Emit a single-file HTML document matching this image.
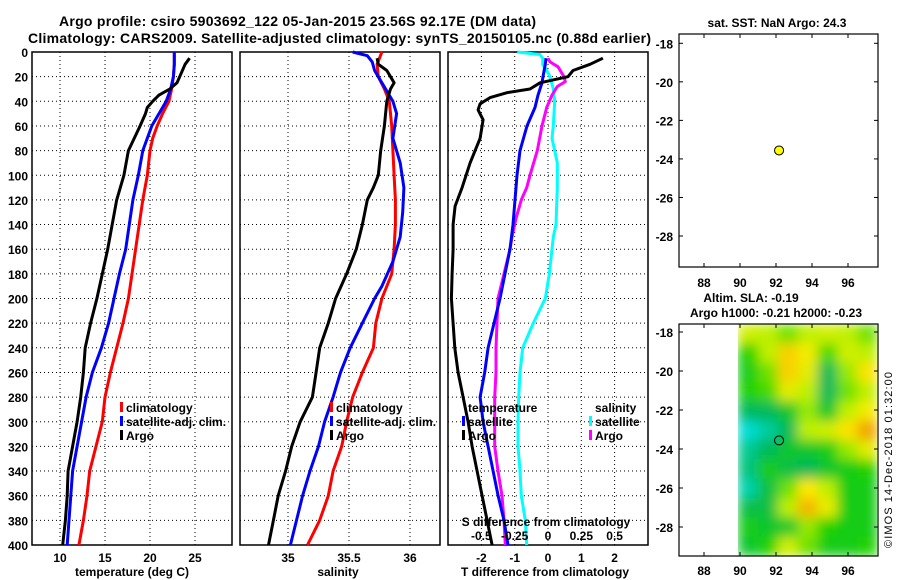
<!DOCTYPE html>
<html><head><meta charset="utf-8"><style>
html,body{margin:0;padding:0;background:#fff;}
svg{display:block;font-family:"Liberation Sans",Arial,sans-serif;font-weight:bold;}
text{font-size:12px;fill:#000;}
</style></head><body>
<svg id="fig" width="900" height="580" viewBox="0 0 900 580" xmlns="http://www.w3.org/2000/svg">
<defs>
<filter id="blur" x="738" y="324" width="139" height="232" filterUnits="userSpaceOnUse"><feGaussianBlur stdDeviation="6" edgeMode="duplicate"/></filter>
<clipPath id="mapclip"><rect x="738" y="324" width="139" height="232"/></clipPath>
</defs>
<rect x="0" y="0" width="900" height="580" fill="#fff"/>
<text x="59" y="26" textLength="477" style="font-size:14px">Argo profile: csiro 5903692_122 05-Jan-2015 23.56S 92.17E (DM data)</text>
<text x="28" y="43" textLength="623" style="font-size:14px">Climatology: CARS2009. Satellite-adjusted climatology: synTS_20150105.nc (0.88d earlier)</text>
<g id="p1"></g>
<g id="p2"></g>
<g id="p3"></g>
<g id="m1"></g>
<g id="m2"></g>
<text transform="translate(892,460) rotate(-90)" text-anchor="middle" style="font-size:11px;font-weight:normal" textLength="176">©IMOS 14-Dec-2018 01:32:00</text>
</svg>
<script>
// ---- data ----
const depthTicks = [0,20,40,60,80,100,120,140,160,180,200,220,240,260,280,300,320,340,360,380,400];
const tempTicks = [10,15,20,25];
const salTicks = [35,35.5,36];
const tdiffTicks = [-2,-1,0,1,2];
const sdiffTicks = [-0.5,-0.25,0,0.25,0.5];
const sdiffTickLabels = ['-0.5','-0.25','0','0.25','0.5'];
const lonTicks = [88,90,92,94,96];
const latTicks = [-18,-20,-22,-24,-26,-28];

const climDepth = [0,10,20,30,40,50,60,70,80,100,120,140,160,180,200,220,240,260,280,300,320,340,360,380,400];
const climTemp = [22.7,22.7,22.6,22.4,22.1,21.4,20.8,20.3,20.0,19.7,19.2,18.8,18.4,18.0,17.6,17.0,16.3,15.6,15.0,14.7,14.0,13.3,13.0,12.6,12.1];
const satTemp = [22.7,22.7,22.6,22.3,21.8,21.0,20.2,19.7,19.2,18.7,18.1,17.7,17.3,16.6,16.0,15.4,14.6,13.6,12.9,12.4,11.9,11.4,11.2,11.0,10.8];
const argoDepth = [5,10,20,25,30,35,40,45,50,60,80,100,120,140,160,180,200,220,240,260,280,300,320,340,360,380,400];
const argoTemp = [24.4,23.9,23.3,23.0,22.2,21.0,20.3,19.7,19.5,18.9,17.6,17.1,16.3,15.8,15.3,14.7,14.1,13.4,12.8,12.6,12.3,11.9,11.4,10.9,10.8,10.6,10.3];

const climSalDepth = [0,10,20,30,40,60,80,100,120,140,160,180,200,220,240,260,280,300,320,340,360,380,400];
const climSal = [35.77,35.73,35.74,35.79,35.83,35.85,35.86,35.87,35.88,35.88,35.87,35.85,35.77,35.72,35.70,35.61,35.53,35.48,35.44,35.37,35.33,35.26,35.16];
const satSalDepth = [0,3,8,15,25,40,50,70,90,110,130,150,170,190,200,220,240,260,280,300,320,340,360,380,400];
const satSal = [35.53,35.65,35.69,35.71,35.77,35.86,35.89,35.86,35.92,35.95,35.94,35.92,35.86,35.77,35.71,35.61,35.51,35.43,35.37,35.30,35.25,35.18,35.12,35.07,35.02];
const argoSalDepth = [5,10,15,20,25,30,40,60,80,100,110,120,140,160,180,200,220,240,260,280,300,320,340,360,380,400];
const argoSal = [35.73,35.74,35.81,35.84,35.87,35.84,35.81,35.79,35.76,35.74,35.70,35.65,35.61,35.56,35.48,35.39,35.33,35.26,35.23,35.20,35.10,35.03,34.98,34.92,34.88,34.84];

const tdArgoDepth = [5,10,15,20,25,30,33,37,42,47,55,70,90,110,125,140,160,180,200,220,240,260,280,300,320,340,360,380,400];
const tdArgo = [1.65,1.26,0.75,0.6,-0.24,-0.54,-1.23,-1.74,-2.04,-2.1,-1.95,-2.04,-2.34,-2.58,-2.79,-2.85,-2.85,-2.88,-2.9,-2.85,-2.8,-2.7,-2.55,-2.4,-2.28,-2.13,-1.98,-1.83,-1.68];
const tdSatDepth = [5,10,20,25,35,45,60,80,100,120,140,160,200,240,260,280,300,320,340,360,380,400];
const tdSat = [-0.06,-0.08,-0.15,-0.18,-0.3,-0.39,-0.63,-0.84,-0.93,-0.99,-1.05,-1.14,-1.44,-1.8,-1.9,-2.04,-1.95,-1.8,-1.65,-1.5,-1.32,-1.2];
const sdArgoDepth = [5,8,12,20,24,28,35,45,60,80,100,110,120,135,150,160,200,240,260,280,300,320,340,360,380,400];
const sdArgo = [0,0.015,0.075,0.12,0.13,0.07,0.03,-0.01,-0.045,-0.08,-0.135,-0.16,-0.2,-0.24,-0.27,-0.285,-0.375,-0.39,-0.39,-0.4,-0.4,-0.4,-0.375,-0.345,-0.33,-0.32];
const sdSatDepth = [0,2,5,10,15,20,30,40,60,70,80,90,110,140,150,180,200,220,240,260,280,300,320,340,360,380,400];
const sdSat = [-0.23,-0.06,-0.04,-0.04,-0.01,0.015,0.04,0.05,0.04,0.03,0.05,0.07,0.07,0.06,0.04,0.01,-0.02,-0.11,-0.19,-0.21,-0.22,-0.225,-0.225,-0.21,-0.2,-0.17,-0.16];

const argoLon = [92.17];
const argoLat = [-23.56];
const slaRows = [
[0.65,0.6,0.5,0.6,0.65,0.6,0.5],
[0.4,0.6,0.85,0.75,0.45,0.65,0.6],
[0.35,0.5,0.85,0.7,0.2,0.55,0.8],
[0.4,0.45,0.7,0.6,0.2,0.5,0.6],
[0.2,0.2,0.3,0.55,0.3,0.6,0.75],
[0.02,0.1,0.2,0.6,0.65,0.8,0.97],
[0.12,0.2,0.3,0.3,0.35,0.55,0.7],
[0.15,0.35,0.25,0.2,0.3,0.35,0.4],
[0.08,0.25,0.5,0.78,0.6,0.35,0.35],
[0.25,0.25,0.6,0.92,0.72,0.35,0.35],
[0.35,0.3,0.3,0.55,0.4,0.35,0.35],
[0.3,0.4,0.65,0.5,0.35,0.35,0.4]];

// ---- helpers ----
const NS='http://www.w3.org/2000/svg';
function mk(parent,tag,attrs,txt){const e=document.createElementNS(NS,tag);for(const k in attrs)e.setAttribute(k,attrs[k]);if(txt!==undefined)e.textContent=txt;parent.appendChild(e);return e;}
const Y=d=>52+d*(493/400);
const xT=t=>60+9*(t-10);
const xS=s=>288+122*(s-35);
const xTD=t=>548+33.3*t;
const xSD=s=>548+133.3*s;

function panel(g,x0,x1,xticks,xfn,ylabels){
  depthTicks.forEach(d=>{
    const l=mk(g,'line',{x1:x0,x2:x1,y1:Y(d),y2:Y(d),stroke:'#000','stroke-width':1,'stroke-dasharray':'1,3'});
    
    
    if(ylabels){const t=mk(g,'text',{x:28,y:Y(d)+5,'text-anchor':'end'},String(d));
      
      }
  });
  xticks.forEach(v=>{
    const l=mk(g,'line',{x1:xfn(v),x2:xfn(v),y1:52,y2:545,stroke:'#000','stroke-width':1,'stroke-dasharray':'1,3'});
    
    
  });
  const r=mk(g,'rect',{x:x0,y:52,width:x1-x0,height:493,fill:'none',stroke:'#000','stroke-width':1.5});
  
  
}
function series(g,depths,vals,xfn,color,name){
  const d=depths.map((z,i)=>(i?'L':'M')+xfn(vals[i]).toFixed(1)+','+Y(z).toFixed(1)).join('');
  const p=mk(g,'path',{d:d,fill:'none',stroke:color,'stroke-width':3,'stroke-linejoin':'round'});
  
  
}
function legend(g,x,y,color,label){
  if(color){const b=mk(g,'rect',{x:x-6,y:y-10,width:3,height:10,fill:color});
    
    }
  const t=mk(g,'text',{x:x,y:y},label);
  
  
}
function xlabels(g,ticks,labels,xfn,y){
  ticks.forEach((v,i)=>{const t=mk(g,'text',{x:xfn(v),y:y,'text-anchor':'middle'},labels?labels[i]:String(v));
    
    });
}
function title(g,x,y,s,name){const t=mk(g,'text',{x:x,y:y,'text-anchor':'middle'},s);
  
  }

// ---- panel 1 ----
const p1=document.getElementById('p1');
panel(p1,32,232,tempTicks,xT,true);
series(p1,climDepth,climTemp,xT,'#f00','climatology-temp-line');
series(p1,climDepth,satTemp,xT,'#00f','satellite-temp-line');
series(p1,argoDepth,argoTemp,xT,'#000','argo-temp-line');
legend(p1,126,412,'#f00','climatology');
legend(p1,126,426,'#00f','satellite-adj. clim.');
legend(p1,126,440,'#000','Argo');
xlabels(p1,tempTicks,null,xT,562);
title(p1,132,576,'temperature (deg C)','x-axis-title-temperature');

// ---- panel 2 ----
const p2=document.getElementById('p2');
panel(p2,240,440,salTicks,xS,false);
series(p2,climSalDepth,climSal,xS,'#f00','climatology-salinity-line');
series(p2,satSalDepth,satSal,xS,'#00f','satellite-salinity-line');
series(p2,argoSalDepth,argoSal,xS,'#000','argo-salinity-line');
legend(p2,336,412,'#f00','climatology');
legend(p2,336,426,'#00f','satellite-adj. clim.');
legend(p2,336,440,'#000','Argo');
xlabels(p2,salTicks,null,xS,562);
title(p2,338,576,'salinity','x-axis-title-salinity');

// ---- panel 3 ----
const p3=document.getElementById('p3');
panel(p3,448,648,tdiffTicks,xTD,false);
series(p3,sdSatDepth,sdSat,xSD,'#0ff','satellite-salinity-diff-line');
series(p3,sdArgoDepth,sdArgo,xSD,'#f0f','argo-salinity-diff-line');
series(p3,tdSatDepth,tdSat,xTD,'#00f','satellite-temp-diff-line');
series(p3,tdArgoDepth,tdArgo,xTD,'#000','argo-temp-diff-line');
legend(p3,468,412,null,'temperature');
legend(p3,468,426,'#00f','satellite');
legend(p3,468,440,'#000','Argo');
legend(p3,595,412,null,'salinity');
legend(p3,595,426,'#0ff','satellite');
legend(p3,595,440,'#f0f','Argo');
title(p3,546,526,'S difference from climatology','s-diff-axis-title');
xlabels(p3,sdiffTicks,sdiffTickLabels,xSD,540);
xlabels(p3,tdiffTicks,null,xTD,562);
title(p3,545,576,'T difference from climatology','x-axis-title-tdiff');

// ---- maps ----
const lonX=lo=>704+18*(lo-88);
function mapAxes(g,top,bot,latY,lonLabelY){
  const r=mk(g,'rect',{x:679,y:top,width:199,height:bot-top,fill:'none',stroke:'#000','stroke-width':1.2});
  
  
  lonTicks.forEach(lo=>{
    mk(g,'line',{x1:lonX(lo),x2:lonX(lo),y1:top,y2:top+4,stroke:'#000'});
    mk(g,'line',{x1:lonX(lo),x2:lonX(lo),y1:bot,y2:bot-4,stroke:'#000'});
    const t=mk(g,'text',{x:lonX(lo),y:lonLabelY,'text-anchor':'middle'},String(lo));
    
    
  });
  latTicks.forEach(la=>{
    mk(g,'line',{x1:679,x2:683,y1:latY(la),y2:latY(la),stroke:'#000'});
    mk(g,'line',{x1:878,x2:874,y1:latY(la),y2:latY(la),stroke:'#000'});
    const t=mk(g,'text',{x:673,y:latY(la)+5,'text-anchor':'end'},String(la));
    
    
  });
}
const m1=document.getElementById('m1');
const latY1=la=>43.3+19.27*(-18-la);
title(m1,777,27,'sat. SST: NaN Argo: 24.3','sst-map-title');
mapAxes(m1,34,267,latY1,287);
argoLon.forEach((lo,i)=>{const c=mk(m1,'circle',{cx:lonX(lo),cy:latY1(argoLat[i]),r:4.5,fill:'#ff0',stroke:'#000','stroke-width':1});
  
  });

const m2=document.getElementById('m2');
const latY2=la=>332+19.5*(-18-la);
title(m2,751,302,'Altim. SLA: -0.19','sla-map-title');
title(m2,776,317,'Argo h1000: -0.21 h2000: -0.23','argo-height-title');
const stops=[[0,[0,225,225]],[0.2,[0,185,90]],[0.4,[30,210,0]],[0.6,[190,240,0]],[0.78,[255,235,0]],[1,[240,150,0]]];
function cmap(v){for(let i=1;i<stops.length;i++){if(v<=stops[i][0]){const a=stops[i-1],b=stops[i],f=(v-a[0])/(b[0]-a[0]);return 'rgb('+a[1].map((c,k)=>Math.round(c+(b[1][k]-c)*f)).join(',')+')';}}return 'rgb(240,150,0)';}
const hg=mk(m2,'g',{'clip-path':'url(#mapclip)'});
const hb=mk(hg,'g',{filter:'url(#blur)'});
const cw=139/7,ch=232/12;
slaRows.forEach((row,r)=>row.forEach((v,c)=>{
  const cell=mk(hb,'rect',{x:738+c*cw,y:324+r*ch,width:cw+0.5,height:ch+0.5,fill:cmap(v)});
  
  
}));
mapAxes(m2,324,556,latY2,575);
argoLon.forEach((lo,i)=>{const c=mk(m2,'circle',{cx:lonX(lo),cy:latY2(argoLat[i]),r:4.5,fill:'none',stroke:'#000','stroke-width':1});
  
  });
</script>
</body></html>
